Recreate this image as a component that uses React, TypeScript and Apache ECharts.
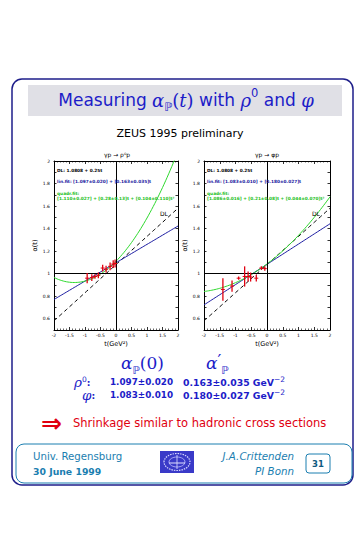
import React, { useEffect, useRef } from "react";
import * as echarts from "echarts";

// ---------- data ----------
const X_TICKS = [-2, -1.5, -1, -0.5, 0, 0.5, 1, 1.5, 2];
const Y_LABELS = [0.6, 0.8, 1, 1.2, 1.4, 1.6, 1.8, 2];
const T_SAMPLES = Array.from({ length: 81 }, (_, k) => -2 + k * 0.05);

// fit coefficients [c0, c1, c2] for alpha(t) = c0 + c1 t + c2 t^2
const DL_FIT = [1.0808, 0.25, 0];
const RHO_LIN = [1.097, 0.163, 0];
const RHO_QUAD = [1.11, 0.28, 0.104];
const PHI_LIN = [1.083, 0.18, 0];
const PHI_QUAD = [1.086, 0.21, 0.044];

// measured points
const RHO_T = [-0.93, -0.78, -0.68, -0.57, -0.43, -0.32, -0.19, -0.09, -0.03];
const RHO_ALPHA = [0.96, 0.965, 0.975, 0.985, 1.05, 1.04, 1.065, 1.085, 1.09];
const RHO_ERR = [0.045, 0.03, 0.02, 0.025, 0.03, 0.03, 0.035, 0.035, 0.035];

const PHI_T = [-1.4, -1.11, -0.9, -0.71, -0.6, -0.52, -0.34, -0.18, -0.07];
const PHI_ALPHA = [0.86, 0.89, 0.96, 0.975, 0.975, 0.97, 0.96, 1.05, 1.045];
const PHI_ERR = [0.1, 0.05, 0.015, 0.09, 0.045, 0.04, 0.03, 0.015, 0.02];

const RESULTS_ROWS = ["ρ", "φ"];
const RESULTS_A0 = ["1.097±0.020", "1.083±0.010"];
const RESULTS_AP = ["0.163±0.035", "0.180±0.027"];

// ---------- styles ----------
const BLUE = "#1c1cc8";
const RED = "#e00010";
const FIT_BLUE = "#1a1aa0";
const FIT_GREEN = "#2ed82e";
const TEAL = "#1a7eb0";

function curve(c: number[]) {
  return T_SAMPLES.map((t) => [t, c[0] + c[1] * t + c[2] * t * t]);
}

function errorSeries(T: number[], A: number[], E: number[], gi: number) {
  return {
    type: "custom",
    xAxisIndex: gi * 2,
    yAxisIndex: gi * 2,
    z: 5,
    data: T.map((t, k) => [t, A[k], E[k]]),
    encode: { x: 0, y: 1 },
    renderItem: (_p: any, api: any) => {
      const t = api.value(0);
      const a = api.value(1);
      const e = api.value(2);
      const top = api.coord([t, a + e]);
      const bot = api.coord([t, a - e]);
      const c = api.coord([t, a]);
      return {
        type: "group",
        children: [
          { type: "line", shape: { x1: top[0], y1: top[1], x2: bot[0], y2: bot[1] }, style: { stroke: RED, lineWidth: 1.3 } },
          { type: "line", shape: { x1: c[0] - 2, y1: c[1], x2: c[0] + 2, y2: c[1] }, style: { stroke: RED, lineWidth: 1 } },
        ],
      };
    },
  };
}

function lineSeries(c: number[], gi: number, color: string, dashed: boolean, extra: any = {}) {
  return {
    type: "line",
    xAxisIndex: gi * 2,
    yAxisIndex: gi * 2,
    data: curve(c),
    showSymbol: false,
    symbol: "none",
    clip: true,
    lineStyle: { color, width: 1, type: dashed ? [4, 3] : "solid" },
    z: 3,
    ...extra,
  };
}

function xAxes(gi: number) {
  const common = {
    gridIndex: gi,
    type: "value",
    min: -2,
    max: 2,
    interval: 0.5,
    splitLine: { show: false },
    axisLine: { onZero: false, lineStyle: { color: "#000", width: 1 } },
    axisTick: { inside: true, length: 3, lineStyle: { color: "#000", width: 0.8 } },
    minorTick: { show: true, splitNumber: 5, length: 1.5, lineStyle: { color: "#000", width: 0.6 } },
  };
  return [
    {
      ...common,
      position: "bottom",
      axisLabel: {
        fontSize: 4.5,
        color: "#000",
        margin: 3,
        fontFamily: "DejaVu Sans",
        formatter: (v: number) => (X_TICKS.indexOf(v) >= 0 ? String(v) : ""),
      },
      name: "t(GeV²)",
      nameLocation: "middle",
      nameGap: 10,
      nameTextStyle: { fontSize: 6.5, color: "#000", fontFamily: "DejaVu Sans" },
    },
    { ...common, position: "top", axisLabel: { show: false } },
  ];
}

function yAxes(gi: number) {
  const common = {
    gridIndex: gi,
    type: "value",
    min: 0.5,
    max: 2.0,
    interval: 0.1,
    splitLine: { show: false },
    axisLine: { onZero: false, lineStyle: { color: "#000", width: 1 } },
    axisTick: { inside: true, length: 2.5, lineStyle: { color: "#000", width: 0.8 } },
  };
  return [
    {
      ...common,
      position: "left",
      axisLabel: {
        fontSize: 4.5,
        color: "#000",
        margin: 4,
        fontFamily: "DejaVu Sans",
        formatter: (v: number) => {
          const k = Math.round(v * 10);
          return Y_LABELS.indexOf(k / 10) >= 0 ? String(k / 10) : "";
        },
      },
      name: "α(t)",
      nameLocation: "middle",
      nameGap: 13,
      nameRotate: 90,
      nameTextStyle: { fontSize: 6.5, color: "#000", fontFamily: "DejaVu Sans" },
    },
    { ...common, position: "right", axisLabel: { show: false } },
  ];
}

const txt = (x: number, y: number, text: string, s: any = {}) => ({
  type: "text",
  x,
  y,
  z: 20,
  style: {
    text,
    fill: "#000",
    fontSize: 9,
    fontFamily: "DejaVu Sans",
    align: "left",
    verticalAlign: "middle",
    ...s,
  },
});

function legend(x0: number, lin: string, quad: string) {
  return [
    txt(x0, 170, "DL: 1.0808 + 0.25t", { fontSize: 4.3, fontWeight: "bold" }),
    txt(x0, 181.5, lin, { fontSize: 4.3, fill: FIT_BLUE, fontWeight: "bold" }),
    txt(x0, 193, "quadr.fit:", { fontSize: 4.3, fill: "#22c022", fontWeight: "bold" }),
    txt(x0, 198.5, quad, { fontSize: 4.3, fill: "#22c022", fontWeight: "bold" }),
  ];
}

// rich styles: base font size, math font size, small font size, line height, script shift
const mathRich = (base: number, math: number, small: number, lh: number, shift: number, weight = "normal") => ({
  n: { fontSize: base, fontFamily: "DejaVu Sans", fontWeight: weight, fill: BLUE, lineHeight: lh },
  m: { fontSize: math, fontFamily: "DejaVu Serif", fontStyle: "italic", fill: BLUE, lineHeight: lh },
  r: { fontSize: math, fontFamily: "DejaVu Serif", fill: BLUE, lineHeight: lh },
  sb: { fontSize: small, fontFamily: "DejaVu Sans", fill: BLUE, verticalAlign: "bottom", lineHeight: lh - 2 * shift },
  sp: { fontSize: small, fontFamily: "DejaVu Sans", fill: BLUE, verticalAlign: "top", lineHeight: lh - 2 * shift },
  pr: { fontSize: math, fontFamily: "DejaVu Serif", fill: BLUE, verticalAlign: "top", lineHeight: lh - 6 },
});

const richText = (x: number, y: number, text: string, rich: any, align = "left") => ({
  type: "text",
  x,
  y,
  z: 20,
  style: { text, rich, align, verticalAlign: "middle" },
});

export default function App() {
  const ref = useRef<HTMLDivElement>(null);
  useEffect(() => {
    if (!ref.current) return;
    const chart = echarts.init(ref.current, undefined, { renderer: "svg" });
    const zeroLines = {
      symbol: ["none", "none"],
      silent: true,
      label: { show: false },
      lineStyle: { color: "#000", type: "solid", width: 1 },
      data: [{ yAxis: 1 }, { xAxis: 0 }],
    };
    const titleRich = mathRich(17, 18, 11.5, 26, 6);
    const headRich = mathRich(15, 17, 10.5, 24, 5);
    const rowRich = mathRich(9.3, 13.5, 7.5, 14, 3.5, "bold");
    const option: any = {
      animation: false,
      backgroundColor: "#fff",
      grid: [
        { left: 54, top: 161, width: 124, height: 169 },
        { left: 204, top: 161, width: 126, height: 169 },
      ],
      xAxis: [...xAxes(0), ...xAxes(1)],
      yAxis: [...yAxes(0), ...yAxes(1)],
      series: [
        lineSeries(DL_FIT, 0, "#000", true, { markLine: zeroLines }),
        lineSeries(RHO_LIN, 0, FIT_BLUE, false),
        lineSeries(RHO_QUAD, 0, FIT_GREEN, false),
        errorSeries(RHO_T, RHO_ALPHA, RHO_ERR, 0),
        lineSeries(DL_FIT, 1, "#000", true, { markLine: zeroLines }),
        lineSeries(PHI_LIN, 1, FIT_BLUE, false),
        lineSeries(PHI_QUAD, 1, FIT_GREEN, false),
        errorSeries(PHI_T, PHI_ALPHA, PHI_ERR, 1),
      ],
      graphic: {
        elements: [
          // slide frame
          { type: "rect", z: 0, shape: { x: 12, y: 79, width: 341, height: 406, r: 10 }, style: { fill: "#fff", stroke: "#1e1e8a", lineWidth: 1.5 } },
          { type: "rect", z: 1, shape: { x: 28, y: 85, width: 314, height: 31 }, style: { fill: "#e0e0e6" } },
          richText(186, 100, "{n|Measuring }{m|α}{sb|ℙ}{r|(}{m|t}{r|)}{n| with }{m|ρ}{sp|0}{n| and }{m|φ}", titleRich, "center"),
          txt(180, 133, "ZEUS 1995 preliminary", { fontSize: 11 , align: "center" }),
          // plot titles
          txt(117, 154, "γp → ρ⁰p", { fontSize: 6, align: "center" }),
          txt(267, 154, "γp → φp", { fontSize: 6, align: "center" }),
          ...legend(57, "lin.fit: [1.097±0.020] + [0.163±0.035]t", "[1.110±0.027] + [0.28±0.13]t + [0.104±0.110]t²"),
          ...legend(207, "lin.fit: [1.083±0.010] + [0.180±0.027]t", "[1.086±0.016] + [0.21±0.08]t + [0.044±0.070]t²"),
          txt(160, 213, "DL", { fontSize: 6 }),
          txt(312, 213, "DL", { fontSize: 6 }),
          // results
          richText(121, 363, "{m|α}{sb|ℙ}{r|(0)}", headRich),
          richText(206, 363, "{m|α}{pr|′}{sb|ℙ}", headRich),
          richText(74, 382, "{m|" + RESULTS_ROWS[0] + "}{sp|0}{n|:}", rowRich),
          richText(82, 395, "{m|" + RESULTS_ROWS[1] + "}{n|:}", rowRich),
          txt(110, 382, RESULTS_A0[0], { fontSize: 8.8, fill: BLUE, fontWeight: "bold" }),
          txt(110, 395, RESULTS_A0[1], { fontSize: 8.8, fill: BLUE, fontWeight: "bold" }),
          richText(183, 382, "{n|" + RESULTS_AP[0] + " GeV}{sp|−2}", rowRich),
          richText(183, 395, "{n|" + RESULTS_AP[1] + " GeV}{sp|−2}", rowRich),
          txt(41, 423, "⇒", { fontSize: 25, fill: RED, fontWeight: "bold" }),
          txt(73, 423, "Shrinkage similar to hadronic cross sections", { fontSize: 11.5, fill: RED }),
          // footer
          { type: "rect", z: 2, shape: { x: 16, y: 444, width: 336, height: 39, r: 8 }, style: { fill: "none", stroke: TEAL, lineWidth: 1 } },
          txt(33, 456, "Univ. Regensburg", { fontSize: 10.2, fill: TEAL }),
          txt(33, 471, "30 June 1999", { fontSize: 9.3, fill: TEAL, fontWeight: "bold" }),
          txt(294, 456, "J.A.Crittenden", { fontSize: 10.3, fill: TEAL, fontStyle: "italic", align: "right" }),
          txt(294, 471, "PI Bonn", { fontSize: 10.3, fill: TEAL, fontStyle: "italic", align: "right" }),
          { type: "rect", z: 2, shape: { x: 306, y: 454, width: 24, height: 19, r: 3 }, style: { fill: "#fff", stroke: TEAL, lineWidth: 1 } },
          txt(318, 463.5, "31", { fontSize: 8.5, fill: "#0e5a80", fontWeight: "bold", align: "center" }),
          // logo
          { type: "rect", z: 2, shape: { x: 160, y: 451, width: 34, height: 22 }, style: { fill: "#3a3ac8" } },
          { type: "ellipse", z: 3, shape: { cx: 177, cy: 462, rx: 13, ry: 8.5 }, style: { fill: "none", stroke: "#d8d8ff", lineWidth: 1.2, lineDash: [1.5, 1] } },
          { type: "ellipse", z: 3, shape: { cx: 177, cy: 462, rx: 8, ry: 5 }, style: { fill: "none", stroke: "#c0c0ff", lineWidth: 0.8 } },
          { type: "line", z: 3, shape: { x1: 169, y1: 463, x2: 185, y2: 463 }, style: { stroke: "#e0e0ff", lineWidth: 1 } },
          { type: "line", z: 3, shape: { x1: 177, y1: 455, x2: 177, y2: 469 }, style: { stroke: "#e0e0ff", lineWidth: 0.8 } },
        ],
      },
    };
    chart.setOption(option);
    return () => chart.dispose();
  }, []);
  return (
    <div
      ref={ref}
      style={{ position: "absolute", left: 0, top: 0, width: 363, height: 535, background: "#fff" }}
    />
  );
}
